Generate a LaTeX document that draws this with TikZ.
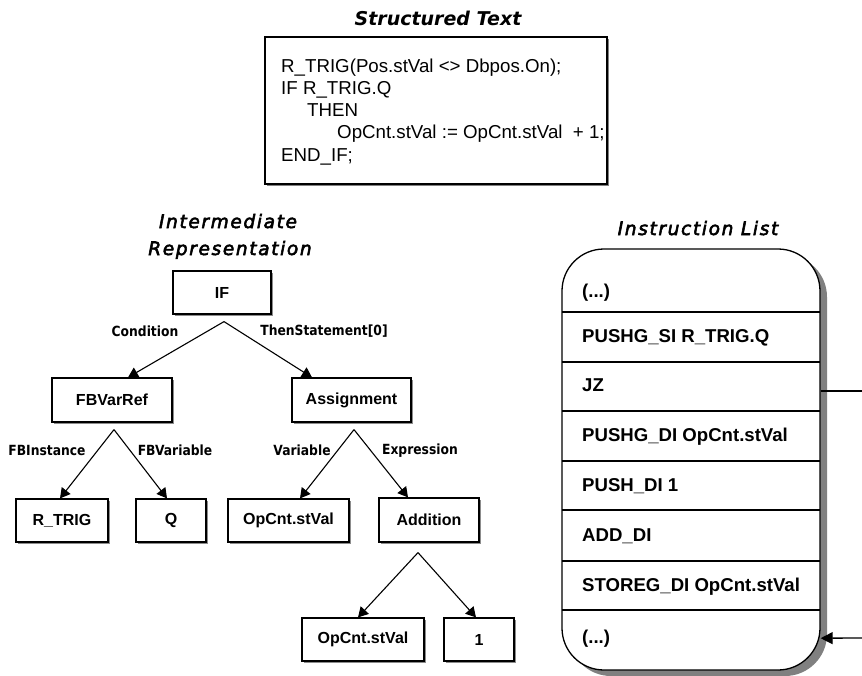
\documentclass[tikz,border=0pt]{standalone}
\usepackage{fontspec}
\setmainfont{Liberation Sans}
\newfontfamily\stfont{DejaVu Sans Bold Oblique}
\newfontfamily\ttlfont{DejaVu Sans Oblique}[LetterSpace=9, FakeBold=3]
\newfontfamily\lblfont{DejaVu Sans Bold}[FakeStretch=0.88]
\usetikzlibrary{arrows.meta,calc,shadows}
\begin{document}
\begin{tikzpicture}[x=1pt,y=-1pt,
  treebox/.style={draw, line width=1.2pt, inner sep=0pt, minimum height=43pt, fill=white,
    drop shadow={shadow xshift=1.5pt, shadow yshift=-1.5pt, fill=black!45, opacity=1},
    font=\fontsize{16}{19}\selectfont\bfseries},
  edgelbl/.style={inner sep=0pt, font=\lblfont\fontsize{14}{16}\selectfont},
  treearrow/.style={line width=1.1pt, -{Triangle[length=10pt,width=11pt]}},
  codeline/.style={anchor=base west, inner sep=0pt, font=\fontsize{18.7}{22}\selectfont},
  ilrow/.style={anchor=base west, inner sep=0pt, font=\fontsize{18.6}{22}\selectfont\bfseries},
  ttl/.style={anchor=base, inner sep=0pt, font=\ttlfont\fontsize{18.5}{22}\selectfont},
  sep/.style={line width=1.3pt}
]
\useasboundingbox (0,0) rectangle (862,675);

% ---------- Structured Text ----------
\node[anchor=base, inner sep=0pt, font=\stfont\fontsize{19}{22}\selectfont] (sttitle) at (438,25) {Structured Text};
\node[draw, line width=1.3pt, fill=white, minimum width=342pt, minimum height=147pt, inner sep=0pt,
  drop shadow={shadow xshift=2pt, shadow yshift=-2pt, fill=black!50, opacity=1}] (code) at (436,110.5) {};
\node[codeline] (c1) at (281,72) {R\_TRIG(Pos.stVal <> Dbpos.On);};
\node[codeline] (c2) at (281,94) {IF R\_TRIG.Q};
\node[codeline] (c3) at (307,116) {THEN};
\node[codeline] (c4) at (337,138) {OpCnt.stVal := OpCnt.stVal\ \ + 1;};
\node[codeline] (c5) at (281,161) {END\_IF;};

% ---------- Intermediate Representation ----------
\node[ttl] (irt1) at (228,228) {Intermediate};
\node[ttl] (irt2) at (230,255) {Representation};

\node[treebox, minimum width=98pt] (if) at (222,292.5) {IF};
\node[treebox, minimum width=120pt, minimum height=44pt] (fbv) at (112,400) {FBVarRef};
\node[treebox, minimum width=119pt, minimum height=44pt] (asg) at (351.5,400) {Assignment};
\node[treebox, minimum width=92pt] (rtrig) at (62,520.5) {R\_TRIG};
\node[treebox, minimum width=70pt] (q) at (171,520.5) {Q};
\node[treebox, minimum width=121pt] (opa) at (288.5,520.5) {OpCnt.stVal};
\node[treebox, minimum width=100pt, minimum height=44pt] (add) at (429,520) {Addition};
\node[treebox, minimum width=122pt] (opb) at (363,639.5) {OpCnt.stVal};
\node[treebox, minimum width=70pt] (one) at (479,639.5) {1};

\coordinate (ifap) at ($(if.south)+(2,7)$);
\coordinate (fbvap) at ($(fbv.south)+(2,7)$);
\coordinate (asgap) at ($(asg.south)+(2.5,7)$);
\coordinate (addap) at ($(add.south)+(-11,10)$);

\draw[treearrow] (ifap) -- ($(fbv.north)+(16,0)$);
\draw[treearrow] (ifap) -- ($(asg.north)+(-39.5,0)$);
\draw[treearrow] (fbvap) -- ($(rtrig.north)+(-2,0)$);
\draw[treearrow] (fbvap) -- ($(q.north)+(-4,0)$);
\draw[treearrow] (asgap) -- ($(opa.north)+(11.5,0)$);
\draw[treearrow] (asgap) -- ($(add.north)+(-21,0)$);
\draw[treearrow] (addap) -- ($(opb.north)+(-5,0)$);
\draw[treearrow] (addap) -- ($(one.north)+(-3,0)$);

\node[edgelbl] (lcond) at (145,331) {Condition};
\node[edgelbl] (lthen) at (324,331) {ThenStatement[0]};
\node[edgelbl] (linst) at (47,450) {FBInstance};
\node[edgelbl] (lfbvar) at (175,450) {FBVariable};
\node[edgelbl] (lvar) at (302,450) {Variable};
\node[edgelbl] (lexpr) at (420,451) {Expression};

% ---------- Instruction List ----------
\node[ttl] (iltitle) at (698,235) {Instruction List};
\node[draw, line width=1.3pt, fill=white, rounded corners=42pt, minimum width=258pt, minimum height=421pt, inner sep=0pt,
  drop shadow={shadow xshift=7pt, shadow yshift=-6pt, fill=black!50, opacity=1}] (il) at (691,459.5) {};
\foreach \yy in {312,362,411,461,510,561,610}
  \draw[sep] (562,\yy) -- (820,\yy);
\node[ilrow] (r1) at (582,297) {(...)};
\node[ilrow] (r2) at (582,342) {PUSHG\_SI R\_TRIG.Q};
\node[ilrow] (r3) at (582,391) {JZ};
\node[ilrow] (r4) at (582,441) {PUSHG\_DI OpCnt.stVal};
\node[ilrow] (r5) at (582,491) {PUSH\_DI 1};
\node[ilrow] (r6) at (582,541) {ADD\_DI};
\node[ilrow] (r7) at (582,591) {STOREG\_DI OpCnt.stVal};
\node[ilrow] (r8) at (582,643) {(...)};

\coordinate (exitA) at (862,391);
\coordinate (exitB) at (862,638);
\draw[line width=1.3pt] (r3.base -| il.east) -- (exitA);
\draw[line width=1.3pt, -{Triangle[length=12pt,width=12pt]}] (exitB) -- (r8.west -| il.east);
\end{tikzpicture}
\end{document}
